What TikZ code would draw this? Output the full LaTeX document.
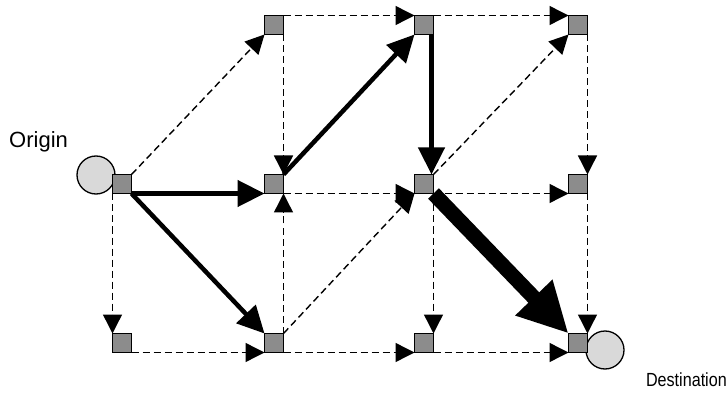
\documentclass[tikz,border=0pt]{standalone}
\usepackage{fontspec}
\setmainfont{Liberation Sans}
\usetikzlibrary{arrows.meta}
\begin{document}
\begin{tikzpicture}[x=1pt,y=-1pt,
  sq/.style={draw=black, line width=1.1pt, fill=gray!90, minimum size=19pt, inner sep=0pt, outer sep=0pt},
  circ/.style={circle, draw=black, line width=1.3pt, fill=gray!30, minimum size=38pt, inner sep=0pt},
  thinarr/.style={dash pattern=on 7pt off 4pt, line width=1.4pt, -{Triangle[length=19pt 0 0,width=19pt 0 0]}},
  thickarr/.style={line width=4.5pt, -{Triangle[length=27pt 0 0,width=26pt 0 0]}},
  vthickarr/.style={line width=15pt, -{Triangle[length=50pt 0 0,width=48pt 0 0]}},
  lab/.style={inner sep=0pt}
]
\useasboundingbox (0,0) rectangle (728,398);
\node[circ] (oc) at (96,175) {};
\node[circ] (dc) at (605,350) {};
\node[sq] (A) at (122,184) {};
\node[sq] (B) at (274,25) {};
\node[sq] (C) at (274,184) {};
\node[sq] (F) at (424,25) {};
\node[sq] (G) at (578,25) {};
\node[sq] (H) at (424,184) {};
\node[sq] (I) at (578,184) {};
\node[sq] (E) at (122,343) {};
\node[sq] (D) at (274,343) {};
\node[sq] (J) at (424,343) {};
\node[sq] (K) at (578,343) {};
\node[lab, anchor=base west, font=\fontsize{22}{26}\selectfont] (orig) at (9,148) {Origin};
\node[lab, anchor=base east, font=\fontsize{19}{22}\selectfont] (dest) at (727,386) {\scalebox{0.85}[1]{Destination}};
% edges
\draw[thinarr] (A.north east) -- (B.south west);
\draw[thickarr] (A.south east) -- (C.south west);
\draw[thickarr] (A.south east) -- (D.north west);
\draw[thinarr] (A.south west) -- (E.north west);
\draw[thinarr] (B.north east) -- (F.north west);
\draw[thinarr] (B.south east) -- (C.north east);
\draw[thickarr] (C.north east) -- (F.south west);
\draw[thinarr] (C.south east) -- (H.south west);
\draw[thinarr] (D.north east) -- (C.south east);
\draw[thinarr] (D.north east) -- (H.south west);
\draw[thinarr] (E.south east) -- (D.south west);
\draw[thinarr] (F.north east) -- (G.north west);
\draw[thickarr] ([xshift=-2pt]F.south east) -- ([xshift=-2pt]H.north east);
\draw[thinarr] (H.north east) -- (G.south west);
\draw[thinarr] (G.south east) -- (I.north east);
\draw[thinarr] (H.south east) -- (I.south west);
\draw[thinarr] (H.south east) -- (J.north east);
\draw[thinarr] (D.south east) -- (J.south west);
\draw[thinarr] (J.south east) -- (K.south west);
\draw[thinarr] (I.south east) -- (K.north east);
\draw[vthickarr] (H.south east) -- (K.north west);
\end{tikzpicture}
\end{document}
